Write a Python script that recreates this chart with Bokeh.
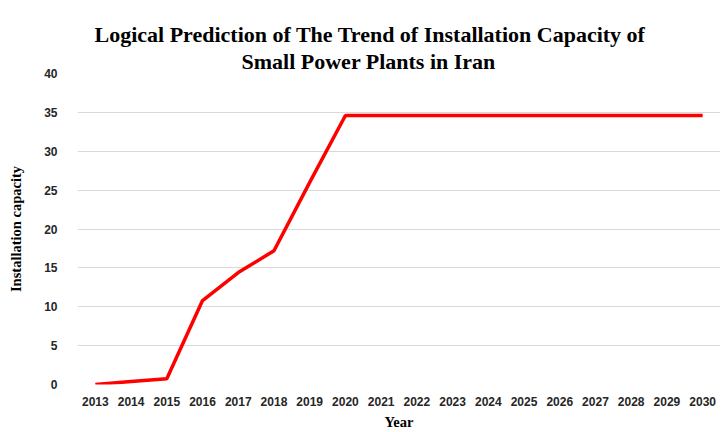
from bokeh.plotting import figure
from bokeh.models import Range1d, FixedTicker, Title
from bokeh.embed import file_html
from bokeh.resources import INLINE

years = [2013, 2014, 2015, 2016, 2017, 2018, 2019, 2020, 2021, 2022,
         2023, 2024, 2025, 2026, 2027, 2028, 2029, 2030]
capacity = [0.0, 0.4, 0.75, 10.8, 14.4, 17.2, 26.0, 34.6, 34.6, 34.6,
            34.6, 34.6, 34.6, 34.6, 34.6, 34.6, 34.6, 34.6]
y_ticks = [0, 5, 10, 15, 20, 25, 30, 35, 40]
title_lines = ["Logical Prediction of The Trend of Installation Capacity of",
               "Small Power Plants in Iran"]
x_title = "Year"
y_title = "Installation capacity"

p = figure(width=722, height=432, output_backend="svg", toolbar_location=None,
           x_range=Range1d(years[0] - 0.5, years[-1] + 0.5), y_range=Range1d(0, 40),
           min_border_left=77, min_border_right=2, min_border_top=73, min_border_bottom=47)
p.outline_line_color = None
p.background_fill_color = "white"
p.title.visible = False

p.line(years, capacity, line_color="#ff0000", line_width=3.5)

p.xaxis.ticker = FixedTicker(ticks=years)
p.yaxis.ticker = FixedTicker(ticks=y_ticks)
for ax in (p.xaxis, p.yaxis):
    ax.axis_line_color = None
    ax.major_tick_line_color = None
    ax.minor_tick_line_color = None
    ax.major_label_text_font = "Liberation Sans"
    ax.major_label_text_font_style = "bold"
    ax.major_label_text_font_size = "12px"
    ax.major_label_text_color = "#262626"
    ax.axis_label_text_font = "Liberation Serif"
    ax.axis_label_text_font_style = "bold"
    ax.axis_label_text_font_size = "14.5px"
    ax.axis_label_text_color = "black"
p.xaxis.major_label_standoff = 6
p.yaxis.major_label_standoff = 14
p.xaxis.axis_label = x_title
p.yaxis.axis_label = y_title
p.xaxis.axis_label_standoff = 5
p.yaxis.axis_label_standoff = 17

p.xgrid.grid_line_color = None
p.ygrid.grid_line_color = "#d9d9d9"
p.ygrid.grid_line_width = 1

# invisible spacer between the plot area and the two title lines
p.add_layout(Title(text="x", text_font_size="13px", text_alpha=0, standoff=0), "above")

title_offsets = [17, 164]
for t, off in reversed(list(zip(title_lines, title_offsets))):
    p.add_layout(Title(text=t, align="left", offset=off, text_font="Liberation Serif",
                       text_font_style="bold", text_font_size="22px",
                       text_color="black", standoff=0), "above")

open("out.html", "w").write(file_html(p, INLINE))
